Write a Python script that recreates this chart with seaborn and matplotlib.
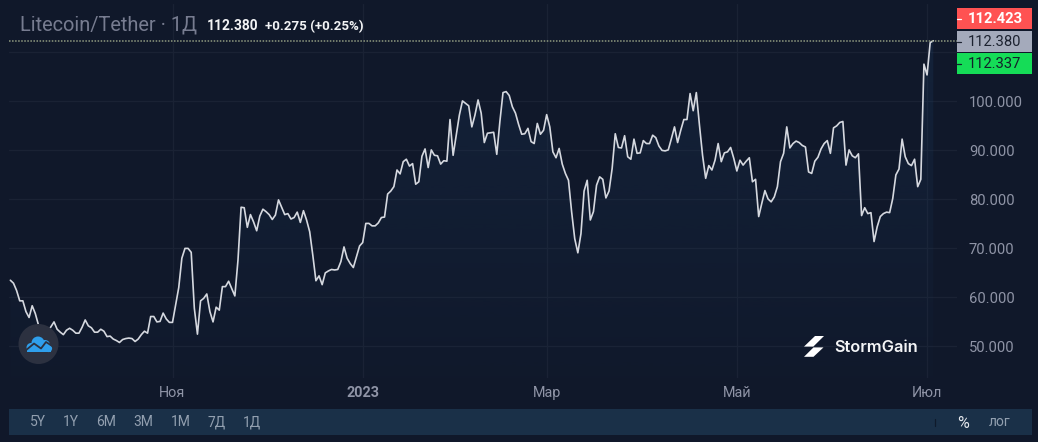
import numpy as np
import pandas as pd
import matplotlib
matplotlib.use("Agg")
import matplotlib.pyplot as plt
import matplotlib.dates as mdates
from matplotlib.patches import Rectangle, Polygon, Circle
import seaborn as sns

# ---------- data ----------
start_date = "2022-09-10"
prices = [
 63.5,62.9,61.4,59.3,59.3,57.1,55.9,58.3,56.7,54.4,53.3,52.7,53.0,54.0,55.0,53.5,52.9,52.4,53.3,53.7,
 53.3,52.7,52.7,53.9,55.4,54.2,53.8,52.9,52.9,53.5,53.1,52.0,52.1,51.5,51.2,50.8,51.4,51.6,51.7,51.6,
 51.0,51.5,52.4,53.1,52.7,56.1,56.1,55.0,55.1,56.8,55.6,54.9,54.9,58.4,62.0,68.0,70.0,70.0,69.2,57.8,
 52.5,59.3,59.8,60.7,57.1,55.0,58.0,57.4,62.2,62.2,63.3,61.8,60.3,67.6,78.4,78.3,74.3,76.9,75.4,73.6,
 76.6,78.0,77.5,76.9,75.9,76.8,79.9,78.4,76.9,77.1,76.0,76.3,77.4,75.3,77.7,75.8,73.4,68.6,63.4,64.4,
 62.6,65.0,65.4,65.7,65.6,65.7,67.3,70.3,68.0,66.9,66.1,68.3,70.5,71.2,75.1,75.1,74.6,74.6,75.2,76.3,
 76.4,81.1,81.7,82.6,86.0,85.2,87.7,88.2,86.8,87.3,83.1,83.6,88.8,90.3,86.5,90.1,89.0,88.9,87.2,87.9,
 87.8,96.3,89.0,93.1,97.2,100.1,99.6,99.1,94.8,97.2,100.3,97.6,91.6,93.5,93.6,93.7,89.2,95.9,101.8,102.0,
 101.2,98.9,97.6,95.3,93.3,93.4,94.5,91.8,91.4,95.5,93.3,94.1,97.3,94.8,89.7,88.5,90.4,87.2,85.3,83.9,
 77.5,72.0,69.1,73.0,81.7,83.9,75.8,77.5,82.9,84.6,84.1,80.3,81.7,86.3,93.4,90.6,90.5,93.0,88.7,88.2,
 92.3,89.4,89.5,92.0,91.4,91.4,93.1,92.6,90.9,90.0,89.9,90.1,92.4,94.8,91.6,94.1,96.3,96.3,101.6,98.1,
 101.8,95.2,89.0,84.3,86.9,86.0,88.0,91.4,87.7,89.5,89.7,90.6,88.4,85.8,88.0,87.0,87.8,88.5,83.6,84.1,
 76.5,79.2,81.8,80.1,79.5,80.5,82.6,87.7,89.4,94.8,90.5,91.4,91.9,91.6,91.0,90.7,85.6,85.3,87.8,88.6,
 90.3,91.4,92.0,89.4,94.6,95.0,95.7,95.9,87.0,90.1,88.9,88.5,89.3,76.7,78.3,77.1,77.3,71.4,74.4,76.5,
 77.1,77.4,77.3,80.2,85.0,86.2,92.3,88.7,87.3,86.9,88.2,82.6,84.1,107.6,105.4,112.0,112.38,
]
y_ticks = [50, 60, 70, 80, 90, 100, 110]
y_labels = ["50.000", "60.000", "70.000", "80.000", "90.000", "100.000", ""]
x_tick_dates = ["2022-11-01", "2023-01-01", "2023-03-01", "2023-05-01", "2023-07-01"]
x_tick_labels = ["Ноя", "2023", "Мар", "Май", "Июл"]
last_price = 112.38
ask_label, last_label, bid_label = "112.423", "112.380", "112.337"
range_labels = ["5Y", "1Y", "6M", "3M", "1M", "7Д", "1Д"]
title_text = "Litecoin/Tether · 1Д"
quote_text = "112.380"
change_text = "+0.275 (+0.25%)"

# ---------- style ----------
BG = "#10182a"
GRID = "#1a2234"
TXT = "#8f94a6"
W, H = 1038, 442
sns.set_theme(style="dark")
plt.rcParams["font.family"] = ["Roboto", "DejaVu Sans"]

fig = plt.figure(figsize=(W / 100, H / 100), dpi=100, facecolor=BG)
L, R, T, B = 9, 957, 4, 378
ax = fig.add_axes([L / W, 1 - B / H, (R - L) / W, (B - T) / H], facecolor=BG)

df = pd.DataFrame({"date": pd.date_range(start_date, periods=len(prices), freq="D"), "price": prices})

x0 = mdates.date2num(pd.Timestamp("2022-11-01"))
PX_DAY = 3.118
xlim = (x0 - (172.5 - L) / PX_DAY, x0 + (R - 172.5) / PX_DAY)
ylim = (100 - (B - 101.4) / 4.9, 100 + (101.4 - T) / 4.9)

# gradient area below the line
xnum = mdates.date2num(df["date"])
poly = ax.fill_between(xnum, df["price"], ylim[0], color="none", lw=0)
n = 256
grad = np.zeros((n, 1, 4))
grad[..., :3] = matplotlib.colors.to_rgb("#1c3a5e")
grad[:, 0, 3] = np.linspace(0.30, 0.03, n)
im = ax.imshow(grad, extent=[xlim[0], xlim[1], ylim[0], last_price], aspect="auto", origin="upper", zorder=1)
im.set_clip_path(poly.get_paths()[0], transform=ax.transData)

sns.lineplot(data=df, x="date", y="price", ax=ax, color="#d5d8df", lw=1.2, zorder=3, legend=False)

ax.axhline(last_price, color="#8f9a80", lw=1.1, ls=(0, (1, 1)), zorder=4)

ax.set_xlim(xlim)
ax.set_ylim(ylim)
ax.set_xlabel("")
ax.set_ylabel("")
ax.set_xticks(mdates.date2num(pd.to_datetime(x_tick_dates)))
ax.set_xticklabels(x_tick_labels)
ax.yaxis.tick_right()
ax.set_yticks(y_ticks)
ax.set_yticklabels(y_labels)
ax.tick_params(axis="y", length=0, pad=8.5, labelsize=10.6, labelcolor=TXT)
ax.tick_params(axis="x", length=0, pad=6, labelsize=10.4, labelcolor=TXT)
ax.get_xticklabels()[1].set_fontweight("bold")
ax.grid(True, color=GRID, lw=1, zorder=0)
ax.set_axisbelow(True)
for s in ax.spines.values():
    s.set_visible(False)

# ---------- overlay furniture, in pixel coordinates ----------
ov = fig.add_axes([0, 0, 1, 1], facecolor="none")
ov.set_xlim(0, W)
ov.set_ylim(H, 0)
ov.axis("off")

ov.text(20, 25, title_text, fontsize=14.4, color="#777c90", va="center", ha="left")
ov.text(207, 26.5, quote_text, fontsize=9.9, color="#f2f3f5", fontweight="bold", va="center", ha="left")
ov.text(265, 26.5, change_text, fontsize=9.6, color="#f2f3f5", fontweight="bold", va="center", ha="left")

# price tags
for (y0, y1, col, tc, lab, fw) in [
    (8, 29, "#ff5252", "white", ask_label, "bold"),
    (53, 74, "#15dc57", "#13202a", bid_label, "normal"),
    (31, 52, "#a4aabb", "#1c2230", last_label, "normal"),
]:
    ov.add_patch(Rectangle((957, y0), 75, y1 - y0, fc=col, ec="none"))
    ov.plot([957, 961], [(y0 + y1) / 2] * 2, color=tc, lw=0.9)
    ov.text(968, (y0 + y1) / 2 + 0.5, lab, fontsize=10.6, color=tc, fontweight=fw, va="center", ha="left")

# bottom bar
ov.add_patch(Rectangle((9, 409), 1023, 26, fc="#1a3048", ec="none"))
for lab, xp in zip(range_labels, [37.5, 70.5, 106, 143, 180.5, 216.5, 252]):
    ov.text(xp, 422.5, lab, fontsize=10, color="#93a0b0", va="center", ha="center")
ov.plot([934.5, 934.5], [419, 426], color="#0f1a2b", lw=0.9)
ov.text(963.5, 423, "%", fontsize=11.5, color="#e4e7ec", va="center", ha="center")
ov.text(1000, 422.5, "лог", fontsize=10, color="#93a0b0", va="center", ha="center")

# round badge
ov.add_patch(Circle((38.5, 344), 20, fc="#2c3140", ec="none", zorder=5))
BL = "#2f9fec"
for cx, cy, r in [(31, 347.5, 4.5), (38, 343, 6.5), (45, 345, 5), (48.5, 348.5, 3.6)]:
    ov.add_patch(Circle((cx, cy), r, fc=BL, ec="none", zorder=6))
ov.add_patch(Rectangle((27, 346), 24, 6.2, fc=BL, ec="none", zorder=6))
ov.plot([25, 34, 41, 46, 53], [351, 343.5, 348.5, 342, 346.5], color="#2c3140", lw=1.3, zorder=7)

# StormGain mark
ov.add_patch(Polygon([(815, 336), (824, 336), (813.3, 346.6), (804, 346.6)], fc="white", ec="none"))
ov.add_patch(Polygon([(813.5, 347.4), (823.5, 347.4), (813.5, 356.8), (804, 356.8)], fc="white", ec="none"))
ov.text(834, 347, "StormGain", fontsize=11.8, color="#f4f5f7", fontweight="semibold",
        family=["Inter", "DejaVu Sans"], va="center", ha="left")

fig.savefig("out.png", dpi=100, facecolor=BG)
